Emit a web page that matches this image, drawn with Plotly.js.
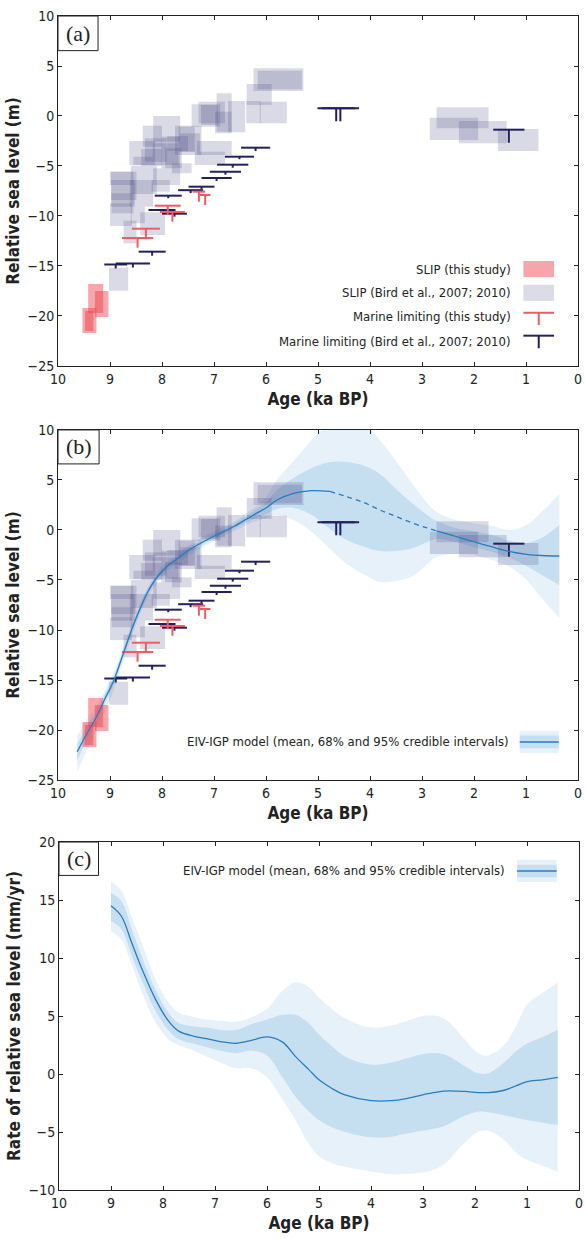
<!DOCTYPE html>
<html><head><meta charset="utf-8">
<script src="https://cdn.plot.ly/plotly-3.0.1.min.js"></script>
<style>body{margin:0;background:#fff}</style>
</head><body><div id="chart" style="width:585px;height:1239px"></div>
<script>
// ---------------- data ----------------
const ageTicks = [10,9,8,7,6,5,4,3,2,1,0];
const rslTicks = [-25,-20,-15,-10,-5,0,5,10];
const rateTicks = [-10,-5,0,5,10,15,20];

// SLIP (this study) - red boxes: age range (ka BP) and RSL range (m)
const slipRedAgeOld   = [9.42, 9.29, 9.53, 9.48];
const slipRedAgeYoung = [9.13, 9.03, 9.26, 9.32];
const slipRedRslHigh  = [-16.8, -17.5, -19.2, -19.5];
const slipRedRslLow   = [-19.7, -20.1, -21.7, -21.5];

// SLIP (Bird et al., 2007; 2010) - lavender boxes
const slipBirdAgeOld   = [6.24,6.16,6.37,6.12,6.38,6.95,6.73,7.43,7.30,7.25,6.98,8.17,8.37,8.63,8.55,7.75,7.37,7.33,7.68,8.01,7.81,8.17,8.33,7.65,7.94,9.00,8.98,8.60,8.98,9.00,8.74,8.42,8.62,8.20,9.02,8.97,8.60,2.72,2.85,2.29,1.54,8.18,8.40,7.90];
const slipBirdAgeYoung = [5.28,5.31,5.89,5.60,6.10,6.66,6.40,6.88,6.79,6.93,6.66,7.65,8.00,8.13,7.68,7.24,6.79,6.66,7.37,7.65,7.43,7.65,7.91,7.27,7.62,8.55,8.49,8.10,8.52,8.58,8.49,7.94,8.17,7.85,8.65,8.55,8.33,1.72,1.92,1.37,0.76,7.69,8.00,7.50];
const slipBirdRslHigh  = [4.77,4.53,3.20,1.43,1.50,2.27,1.50,1.17,1.43,1.10,0.43,0.00,-0.97,-2.50,-4.07,-0.97,-3.57,-2.50,-1.07,-2.07,-4.73,-5.23,-2.23,-1.73,-3.23,-5.57,-5.57,-4.97,-6.40,-8.73,-10.47,-9.63,-6.40,-6.40,-15.17,-7.73,-9.07,0.87,-0.17,-0.50,-1.30,-2.73,-3.30,-2.00];
const slipBirdRslLow   = [2.50,2.67,1.10,-0.73,-0.73,-1.57,-1.63,-1.07,-0.73,-0.90,-1.73,-2.57,-3.07,-4.90,-4.90,-3.90,-4.90,-3.90,-3.57,-5.23,-5.73,-6.90,-4.57,-3.57,-5.23,-6.90,-8.40,-7.80,-9.07,-11.00,-12.73,-11.90,-9.07,-7.57,-17.47,-9.73,-10.73,-1.23,-2.40,-2.73,-3.50,-4.07,-5.00,-3.50];

// Marine limiting (this study) - red: age, age error, RSL (top), vertical error
const mlRedAge    = [7.29, 7.17, 7.89, 7.80, 8.31, 8.47];
const mlRedAgeErr = [0.12, 0.10, 0.25, 0.24, 0.27, 0.30];
const mlRedRsl    = [-7.57, -7.90, -8.97, -9.60, -11.27, -12.20];
const mlRedErr    = [1.00, 1.00, 0.93, 0.97, 0.90, 0.97];

// Marine limiting (Bird et al.) - navy
const mlBirdAge    = [6.20,6.51,6.64,6.78,6.95,7.24,7.45,7.88,8.00,7.76,8.19,8.89,8.56,4.65,4.57,1.33];
const mlBirdAgeErr = [0.28,0.28,0.30,0.30,0.29,0.25,0.24,0.26,0.26,0.24,0.26,0.22,0.33,0.36,0.36,0.30];
const mlBirdRsl    = [-3.17,-4.07,-4.87,-5.57,-6.20,-7.07,-7.42,-7.97,-9.40,-9.77,-13.57,-14.85,-14.75,0.77,0.77,-1.37];
const mlBirdErr    = [0.33,0.25,0.30,0.30,0.30,0.25,0.30,0.25,0.30,0.30,0.40,0.40,0.40,1.30,1.30,1.30];

// EIV-IGP model RSL (panel b)
const modelAge  = [9.63,9.45,9.26,9.10,8.94,8.80,8.68,8.55,8.40,8.29,8.10,7.91,7.70,7.53,7.25,6.95,6.60,6.24,6.00,5.79,5.47,5.12,4.77,4.45,4.10,3.81,3.50,3.17,2.90,2.72,2.35,2.01,1.65,1.31,0.99,0.70,0.36];
const modelMean = [-22.17,-20.4,-18.67,-16.9,-15.2,-13.2,-11.4,-9.5,-7.6,-6.35,-4.75,-3.67,-2.85,-2.17,-1.3,-0.5,0.4,1.5,2.2,3.0,3.67,3.93,3.85,3.33,2.7,2.0,1.35,0.67,0.2,-0.1,-0.65,-1.17,-1.7,-2.17,-2.43,-2.55,-2.6];
const modelHi95 = [-20.6,-19.0,-17.6,-16.0,-14.4,-12.5,-10.8,-8.9,-7.1,-5.85,-4.25,-3.2,-2.4,-1.7,-0.8,0.0,0.9,2.2,3.3,5.0,6.9,9.0,10.6,11.0,10.5,9.0,6.9,4.5,2.7,1.8,1.0,0.7,0.4,0.0,0.5,1.8,3.6];
const modelLo95 = [-24.2,-22.1,-20.0,-18.1,-16.2,-14.0,-12.1,-10.2,-8.2,-6.95,-5.35,-4.2,-3.4,-2.7,-1.8,-1.0,-0.1,0.8,1.2,1.5,1.0,-0.2,-1.9,-3.4,-4.5,-5.2,-5.1,-4.6,-3.4,-2.7,-2.4,-2.5,-3.0,-3.7,-5.0,-6.8,-8.8];
const modelHi68 = [-21.4,-19.7,-18.1,-16.4,-14.8,-12.8,-11.1,-9.2,-7.3,-6.1,-4.5,-3.45,-2.6,-1.9,-1.05,-0.25,0.65,1.9,2.8,4.0,5.2,6.2,6.8,6.8,6.4,5.6,4.1,2.6,1.5,0.9,0.2,-0.1,-0.5,-1.1,-1.3,-0.8,0.5];
const modelLo68 = [-23.0,-21.1,-19.2,-17.4,-15.6,-13.6,-11.7,-9.8,-7.9,-6.6,-5.0,-3.9,-3.1,-2.45,-1.55,-0.75,0.15,1.1,1.6,2.1,2.2,1.5,0.1,-1.0,-1.7,-2.1,-2.1,-1.8,-1.2,-0.9,-1.2,-1.7,-2.2,-2.8,-3.6,-4.5,-5.5];
const dashedFrom = 4.77, dashedTo = 2.72; // age span drawn dashed

// EIV-IGP model rate (panel c)
const rateAge  = [9.0,8.8,8.6,8.4,8.15,7.9,7.7,7.4,7.16,6.9,6.6,6.3,6.0,5.7,5.45,5.2,5.0,4.75,4.5,4.0,3.6,3.3,2.9,2.6,2.2,1.94,1.75,1.44,1.2,1.0,0.7,0.41];
const rateMean = [14.5,13.6,11.3,9.0,6.5,4.6,3.7,3.25,3.05,2.8,2.65,2.9,3.2,2.75,1.5,0.4,-0.5,-1.25,-1.8,-2.3,-2.3,-2.1,-1.7,-1.47,-1.5,-1.6,-1.6,-1.4,-1.0,-0.66,-0.5,-0.29];
const rateHi95 = [16.6,15.8,13.5,11.2,8.2,6.2,5.3,4.9,4.7,4.6,4.5,4.9,5.6,7.2,7.9,7.5,6.6,5.6,4.8,4.0,4.2,4.6,5.07,4.8,3.0,1.8,1.6,2.5,4.2,6.0,7.0,7.9];
const rateLo95 = [12.3,11.6,9.4,7.0,4.5,3.0,2.5,2.0,1.5,1.0,0.5,0.5,-0.3,-2.2,-4.0,-6.0,-7.1,-7.7,-8.0,-8.4,-8.65,-8.6,-8.4,-7.8,-5.9,-5.0,-4.9,-5.7,-6.8,-7.4,-7.9,-8.4];
const rateHi68 = [15.6,14.9,12.5,10.0,7.3,5.3,4.4,4.1,4.0,3.8,3.8,4.3,4.7,5.1,5.1,4.4,3.4,2.4,1.5,0.8,1.0,1.35,1.78,1.7,0.7,0.06,0.06,1.0,2.0,2.64,3.2,3.8];
const rateLo68 = [13.2,12.5,10.2,8.0,5.5,3.8,3.0,2.6,2.3,2.0,1.8,2.0,1.6,-0.3,-1.95,-3.2,-3.97,-4.6,-5.0,-5.46,-5.4,-5.11,-4.8,-4.5,-3.6,-3.25,-3.3,-3.55,-3.8,-3.97,-4.2,-4.4];

// ---------------- styles ----------------
const C = {
  red: 'rgba(235,60,70,0.45)', redSw: '#f5a6ab',
  lav: 'rgba(60,60,120,0.19)', lavSw: '#dcdce8',
  navy: '#23205c', redLine: '#ee5b66',
  b95: '#e6f1f9', b68: '#c6dff0', mean: '#2a7cc0', axis: '#222'
};
const FONT = "'Liberation Sans Narrow', 'DejaVu Sans Condensed', 'Arial Narrow', sans-serif";

// ---------------- builders ----------------
function boxes(old, young, hi, lo, color, xa, ya) {
  return old.map((_, i) => ({
    type: 'scatter', mode: 'lines', xaxis: xa, yaxis: ya, hoverinfo: 'skip',
    x: [old[i], young[i], young[i], old[i], old[i]],
    y: [lo[i], lo[i], hi[i], hi[i], lo[i]],
    fill: 'toself', fillcolor: color, line: {width: 0}
  }));
}
function marine(age, aerr, rsl, verr, color, xa, ya) {
  const x = [], y = [];
  age.forEach((a, i) => {
    x.push(a + aerr[i], a - aerr[i], null, a, a, null);
    y.push(rsl[i], rsl[i], null, rsl[i], rsl[i] - verr[i], null);
  });
  return {type: 'scatter', mode: 'lines', x, y, xaxis: xa, yaxis: ya, hoverinfo: 'skip',
    line: {color, width: 2}, connectgaps: false};
}
function band(ages, lo, hi, color, xa, ya) {
  return [
    {type: 'scatter', mode: 'lines', x: ages, y: lo, xaxis: xa, yaxis: ya, hoverinfo: 'skip',
     line: {width: 0, shape: 'spline'}},
    {type: 'scatter', mode: 'lines', x: ages, y: hi, xaxis: xa, yaxis: ya, hoverinfo: 'skip',
     line: {width: 0, shape: 'spline'}, fill: 'tonexty', fillcolor: color}
  ];
}
function sub(ages, vals, test) {
  const x = [], y = [];
  ages.forEach((a, i) => { if (test(a)) { x.push(a); y.push(vals[i]); } });
  return {x, y};
}

const traces = [];
// Panel (a)
traces.push(...boxes(slipBirdAgeOld, slipBirdAgeYoung, slipBirdRslHigh, slipBirdRslLow, C.lav, 'x', 'y'));
traces.push(...boxes(slipRedAgeOld, slipRedAgeYoung, slipRedRslHigh, slipRedRslLow, C.red, 'x', 'y'));
traces.push(marine(mlBirdAge, mlBirdAgeErr, mlBirdRsl, mlBirdErr, C.navy, 'x', 'y'));
traces.push(marine(mlRedAge, mlRedAgeErr, mlRedRsl, mlRedErr, C.redLine, 'x', 'y'));
// Panel (b)
traces.push(...band(modelAge, modelLo95, modelHi95, C.b95, 'x2', 'y2'));
traces.push(...band(modelAge, modelLo68, modelHi68, C.b68, 'x2', 'y2'));
traces.push(...boxes(slipBirdAgeOld, slipBirdAgeYoung, slipBirdRslHigh, slipBirdRslLow, C.lav, 'x2', 'y2'));
traces.push(...boxes(slipRedAgeOld, slipRedAgeYoung, slipRedRslHigh, slipRedRslLow, C.red, 'x2', 'y2'));
traces.push(marine(mlBirdAge, mlBirdAgeErr, mlBirdRsl, mlBirdErr, C.navy, 'x2', 'y2'));
traces.push(marine(mlRedAge, mlRedAgeErr, mlRedRsl, mlRedErr, C.redLine, 'x2', 'y2'));
const segOld = sub(modelAge, modelMean, a => a >= dashedFrom);
const segDash = sub(modelAge, modelMean, a => a <= dashedFrom && a >= dashedTo);
const segYoung = sub(modelAge, modelMean, a => a <= dashedTo);
[[segOld, 'solid'], [segDash, '5px,4px'], [segYoung, 'solid']].forEach(([s, d]) => {
  traces.push({type: 'scatter', mode: 'lines', x: s.x, y: s.y, xaxis: 'x2', yaxis: 'y2', hoverinfo: 'skip',
    line: {color: C.mean, width: 1.3, dash: d, shape: 'spline'}});
});
// Panel (c)
traces.push(...band(rateAge, rateLo95, rateHi95, C.b95, 'x3', 'y3'));
traces.push(...band(rateAge, rateLo68, rateHi68, C.b68, 'x3', 'y3'));
traces.push({type: 'scatter', mode: 'lines', x: rateAge, y: rateMean, xaxis: 'x3', yaxis: 'y3', hoverinfo: 'skip',
  line: {color: C.mean, width: 1.3, shape: 'spline'}});

// ---------------- layout ----------------
function xAxis(anchor, domain) {
  return {anchor, domain, range: [10, 0], tickvals: ageTicks, ticks: 'inside', ticklen: 4,
    tickcolor: C.axis, showline: true, linecolor: C.axis, linewidth: 1, mirror: 'ticks',
    showgrid: false, zeroline: false, tickfont: {size: 14}, automargin: false,
    title: {text: '<b>Age (ka BP)</b>', font: {size: 17}, standoff: 7}};
}
function yAxis(anchor, domain, range, ticks, title) {
  return {anchor, domain, range, tickvals: ticks, ticks: 'inside', ticklen: 4,
    tickcolor: C.axis, showline: true, linecolor: C.axis, linewidth: 1, mirror: 'ticks',
    showgrid: false, zeroline: false, tickfont: {size: 14}, automargin: false,
    title: {text: '<b>' + title + '</b>', font: {size: 17}, standoff: 3}};
}

const shapes = [], annotations = [];
function panelLabel(xr, yr, txt, x1, y0) {
  shapes.push({type: 'rect', xref: xr, yref: yr, x0: 0, x1, y0, y1: 1,
    line: {color: C.axis, width: 1}, fillcolor: '#fff', layer: 'above'});
  annotations.push({xref: xr, yref: yr, x: x1 / 2, y: (1 + y0) / 2, text: txt, showarrow: false,
    xanchor: 'center', yanchor: 'middle', font: {family: "'Liberation Serif', serif", size: 22, color: '#222'}});
}
function legText(xr, yr, x, y, txt) {
  annotations.push({xref: xr, yref: yr, x, y, text: txt, showarrow: false, xanchor: 'right',
    yanchor: 'middle', font: {size: 13, color: '#222'}});
}
function modelLegend(xr, yr, tx, x0, x1, y) {
  legText(xr, yr, tx, y, 'EIV-IGP model (mean, 68% and 95% credible intervals)');
  shapes.push({type: 'rect', xref: xr, yref: yr, x0, x1, y0: y - 0.032, y1: y + 0.032, line: {width: 0}, fillcolor: C.b95});
  shapes.push({type: 'rect', xref: xr, yref: yr, x0, x1, y0: y - 0.018, y1: y + 0.018, line: {width: 0}, fillcolor: C.b68});
  shapes.push({type: 'line', xref: xr, yref: yr, x0, x1, y0: y, y1: y, line: {color: C.mean, width: 1.5}});
}

// panel a legend
const xa = 'x domain', ya = 'y domain';
legText(xa, ya, 0.875, 0.277, 'SLIP (this study)');
legText(xa, ya, 0.875, 0.209, 'SLIP (Bird et al., 2007; 2010)');
legText(xa, ya, 0.875, 0.141, 'Marine limiting (this study)');
legText(xa, ya, 0.875, 0.069, 'Marine limiting (Bird et al., 2007; 2010)');
shapes.push({type: 'rect', xref: xa, yref: ya, x0: 0.895, x1: 0.954, y0: 0.254, y1: 0.300, line: {width: 0}, fillcolor: C.redSw});
shapes.push({type: 'rect', xref: xa, yref: ya, x0: 0.895, x1: 0.954, y0: 0.186, y1: 0.232, line: {width: 0}, fillcolor: C.lavSw});
shapes.push({type: 'line', xref: xa, yref: ya, x0: 0.895, x1: 0.954, y0: 0.152, y1: 0.152, line: {color: C.redLine, width: 2}});
shapes.push({type: 'line', xref: xa, yref: ya, x0: 0.9245, x1: 0.9245, y0: 0.152, y1: 0.117, line: {color: C.redLine, width: 2}});
shapes.push({type: 'line', xref: xa, yref: ya, x0: 0.895, x1: 0.954, y0: 0.0866, y1: 0.0866, line: {color: C.navy, width: 2}});
shapes.push({type: 'line', xref: xa, yref: ya, x0: 0.9245, x1: 0.9245, y0: 0.0866, y1: 0.0506, line: {color: C.navy, width: 2}});

panelLabel('x domain', 'y domain', '(a)', 0.077, 0.901);
panelLabel('x2 domain', 'y2 domain', '(b)', 0.079, 0.903);
panelLabel('x3 domain', 'y3 domain', '(c)', 0.076, 0.904);
modelLegend('x2 domain', 'y2 domain', 0.872, 0.888, 0.963, 0.109);
modelLegend('x3 domain', 'y3 domain', 0.862, 0.881, 0.957, 0.917);

const layout = {
  width: 585, height: 1239, showlegend: false,
  margin: {l: 58, r: 6, t: 16, b: 49, pad: 0},
  paper_bgcolor: '#fff', plot_bgcolor: '#fff',
  font: {family: FONT, size: 14, color: '#222'},
  xaxis: xAxis('y', [0, 520 / 521]),
  yaxis: yAxis('x', [0.7019, 1], [-25, 10], rslTicks, 'Relative sea level (m)'),
  xaxis2: xAxis('y2', [0, 520 / 521]),
  yaxis2: yAxis('x2', [0.3492, 0.6474], [-25, 10], rslTicks, 'Relative sea level (m)'),
  xaxis3: xAxis('y3', [1 / 521, 1]),
  yaxis3: yAxis('x3', [0, 0.2964], [-10, 20], rateTicks, 'Rate of relative sea level (mm/yr)'),
  shapes, annotations
};

Plotly.newPlot('chart', traces, layout, {displayModeBar: false, staticPlot: true});
</script></body></html>
